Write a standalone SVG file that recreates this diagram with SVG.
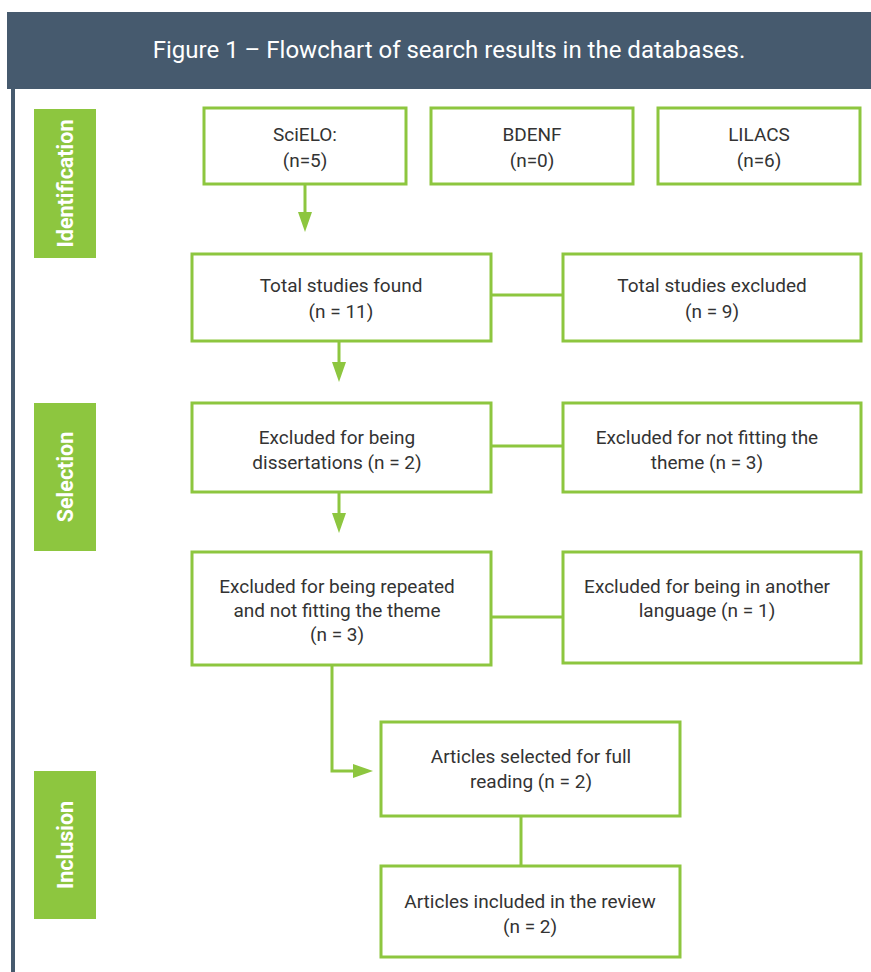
<svg xmlns="http://www.w3.org/2000/svg" width="871" height="972" viewBox="0 0 871 972">
<style>
.box{fill:#fff;stroke:#8dc63f;stroke-width:3}
.t{font-family:Roboto,"Liberation Sans",sans-serif;font-size:19px;fill:#333;text-anchor:middle}
.lab{fill:#8dc63f}
.lt{font-family:Roboto,"Liberation Sans",sans-serif;font-size:21.5px;font-weight:bold;fill:#fff;text-anchor:middle}
.c{fill:none;stroke:#8dc63f;stroke-width:3}
.ah{fill:#8dc63f}
</style>
<rect x="0" y="0" width="871" height="972" fill="#fff"/>
<g id="header">
<rect x="7" y="12" width="864" height="77" fill="#465a6e"/>
<rect x="11" y="89" width="4" height="883" fill="#465a6e"/>
<text x="449" y="58" font-family="Roboto,'Liberation Sans',sans-serif" font-size="24" fill="#fff" text-anchor="middle">Figure 1 – Flowchart of search results in the databases.</text>
</g>
<g id="label-identification"><rect class="lab" x="34" y="109" width="62" height="149"/><text class="lt" transform="translate(72.5,183.5) rotate(-90)">Identification</text></g>
<g id="label-selection"><rect class="lab" x="34" y="403" width="62" height="148"/><text class="lt" transform="translate(72.5,477) rotate(-90)">Selection</text></g>
<g id="label-inclusion"><rect class="lab" x="34" y="771" width="62" height="148"/><text class="lt" transform="translate(72.5,845) rotate(-90)">Inclusion</text></g>
<g id="connectors">
<line class="c" x1="305" y1="184" x2="305" y2="214"/><polygon class="ah" points="298,212 312,212 305,232"/>
<line class="c" x1="339" y1="341" x2="339" y2="364"/><polygon class="ah" points="332,362 346,362 339,382"/>
<line class="c" x1="339" y1="492" x2="339" y2="515"/><polygon class="ah" points="332,513 346,513 339,533"/>
<line class="c" x1="491" y1="295" x2="563" y2="295"/>
<line class="c" x1="491" y1="446" x2="563" y2="446"/>
<line class="c" x1="491" y1="617" x2="563" y2="617"/>
<polyline class="c" points="332,665 332,771 355,771"/><polygon class="ah" points="353,764 353,778 373,771"/>
<line class="c" x1="521" y1="816" x2="521" y2="866"/>
</g>
<g id="scielo"><rect class="box" x="204" y="108" width="202" height="76"/><text class="t" x="305" y="141">SciELO:</text><text class="t" x="305" y="167">(n=5)</text></g>
<g id="bdenf"><rect class="box" x="431" y="108" width="202" height="76"/><text class="t" x="532" y="141">BDENF</text><text class="t" x="532" y="167">(n=0)</text></g>
<g id="lilacs"><rect class="box" x="658" y="108" width="202" height="76"/><text class="t" x="759" y="141">LILACS</text><text class="t" x="759" y="167">(n=6)</text></g>
<g id="total-found"><rect class="box" x="192" y="254" width="299" height="87"/><text class="t" x="341" y="292">Total studies found</text><text class="t" x="341" y="318">(n = 11)</text></g>
<g id="total-excluded"><rect class="box" x="563" y="254" width="298" height="87"/><text class="t" x="712" y="292">Total studies excluded</text><text class="t" x="712" y="318">(n = 9)</text></g>
<g id="excl-dissertations"><rect class="box" x="192" y="403" width="299" height="89"/><text class="t" x="337" y="444">Excluded for being</text><text class="t" x="337" y="469">dissertations (n = 2)</text></g>
<g id="excl-theme"><rect class="box" x="563" y="403" width="298" height="89"/><text class="t" x="707" y="444">Excluded for not fitting the</text><text class="t" x="707" y="469">theme (n = 3)</text></g>
<g id="excl-repeated"><rect class="box" x="192" y="552" width="299" height="113"/><text class="t" x="337" y="593">Excluded for being repeated</text><text class="t" x="337" y="617">and not fitting the theme</text><text class="t" x="337" y="641">(n = 3)</text></g>
<g id="excl-language"><rect class="box" x="563" y="552" width="298" height="111"/><text class="t" x="707" y="593">Excluded for being in another</text><text class="t" x="707" y="617">language (n = 1)</text></g>
<g id="selected"><rect class="box" x="381" y="722" width="299" height="94"/><text class="t" x="531" y="763">Articles selected for full</text><text class="t" x="531" y="788">reading (n = 2)</text></g>
<g id="included"><rect class="box" x="381" y="866" width="299" height="91"/><text class="t" x="530" y="908">Articles included in the review</text><text class="t" x="530" y="933">(n = 2)</text></g>
</svg>
